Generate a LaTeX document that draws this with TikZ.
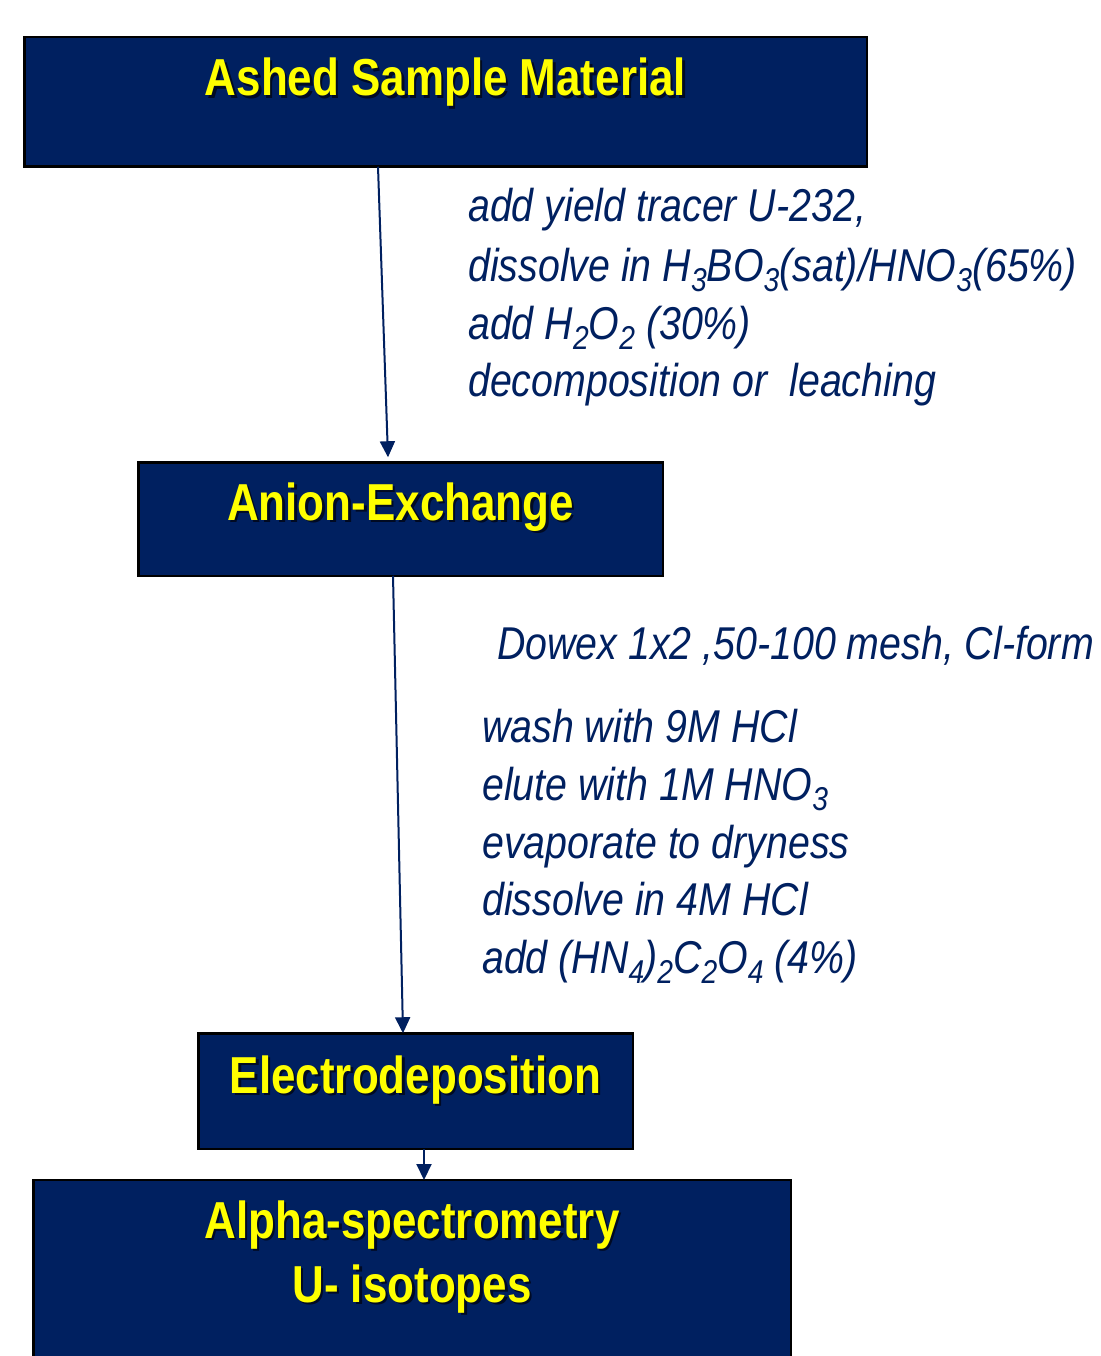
\documentclass[tikz,border=0pt]{standalone}
\usepackage{fontspec}
\setmainfont[FakeStretch=0.845]{Liberation Sans}
\newfontfamily\notefont[FakeStretch=0.855]{Liberation Sans}
\usetikzlibrary{arrows.meta}
\definecolor{navy}{RGB}{0,32,96}
\definecolor{shadowc}{RGB}{0,10,35}
\definecolor{yel}{RGB}{255,255,0}
\newcommand{\shtext}[1]{\makebox[0pt][l]{\hspace{2.5pt}\raisebox{-2.5pt}{\textcolor{shadowc}{#1}}}#1}
\newcommand{\sbx}[1]{\raisebox{-0.22em}{\fontsize{33}{33}\selectfont #1}}
\begin{document}
\begin{tikzpicture}[x=1pt,y=-1pt,
 box/.style={draw=black,line width=2.5pt,fill=navy,inner sep=0pt,outer sep=0pt,rectangle},
 head/.style={text=yel,font=\fontsize{52}{60}\selectfont\bfseries,anchor=base,inner sep=0pt},
 note/.style={text=navy,font=\notefont\fontsize{46}{55}\selectfont\itshape,anchor=base west,inner sep=0pt},
 arr/.style={draw=navy,line width=2pt,-{Triangle[length=16pt,width=15pt]}}]
\useasboundingbox (0,0) rectangle (1100,1356);
\fill[white] (0,0) rectangle (1100,1356);
% boxes
\node[box,minimum width=842.5pt,minimum height=129.5pt] (b1) at (445.5,102) {};
\node[box,minimum width=524.5pt,minimum height=113.5pt] (b2) at (400.5,519) {};
\node[box,minimum width=434.5pt,minimum height=115.5pt] (b3) at (415.5,1091) {};
\node[box,minimum width=757.5pt,minimum height=200pt] (b4) at (412,1280) {};
% headings
\node[head] (h1) at (445.5,96) {\shtext{Ashed Sample Material}};
\node[head] (h2) at (400.5,520) {\shtext{Anion-Exchange}};
\node[head] (h3) at (415.5,1093) {\shtext{Electrodeposition}};
\node[head] (h4a) at (412,1238) {\shtext{Alpha-spectrometry}};
\node[head] (h4b) at (412,1302) {\shtext{U- isotopes}};
% arrows
\draw[arr] ([xshift=-67.5pt]b1.south) -- ([xshift=-12.5pt,yshift=5pt]b2.north);
\draw[arr] ([xshift=-7.5pt]b2.south) -- ([xshift=-12.5pt]b3.north);
\draw[arr] ([xshift=8.5pt]b3.south) -- ([xshift=12pt]b4.north);
% notes
\node[note] (n1) at (468,222) {add yield tracer U-232,};
\node[note] (n2) at (468,281) {dissolve in H\sbx{3}BO\sbx{3}(sat)/HNO\sbx{3}(65\%)};
\node[note] (n3) at (468,339) {add H\sbx{2}O\sbx{2} (30\%)};
\node[note] (n4) at (468,396) {decomposition or\ \ leaching};
\node[note] (m0) at (497,659) {Dowex 1x2 ,50-100 mesh, Cl-form};
\node[note] (m1) at (482,742) {wash with 9M HCl};
\node[note] (m2) at (482,800) {elute with 1M HNO\sbx{3}};
\node[note] (m3) at (482,858) {evaporate to dryness};
\node[note] (m4) at (482,915) {dissolve in 4M HCl};
\node[note] (m5) at (482,973) {add (HN\sbx{4})\sbx{2}C\sbx{2}O\sbx{4} (4\%)};
\end{tikzpicture}
\end{document}
